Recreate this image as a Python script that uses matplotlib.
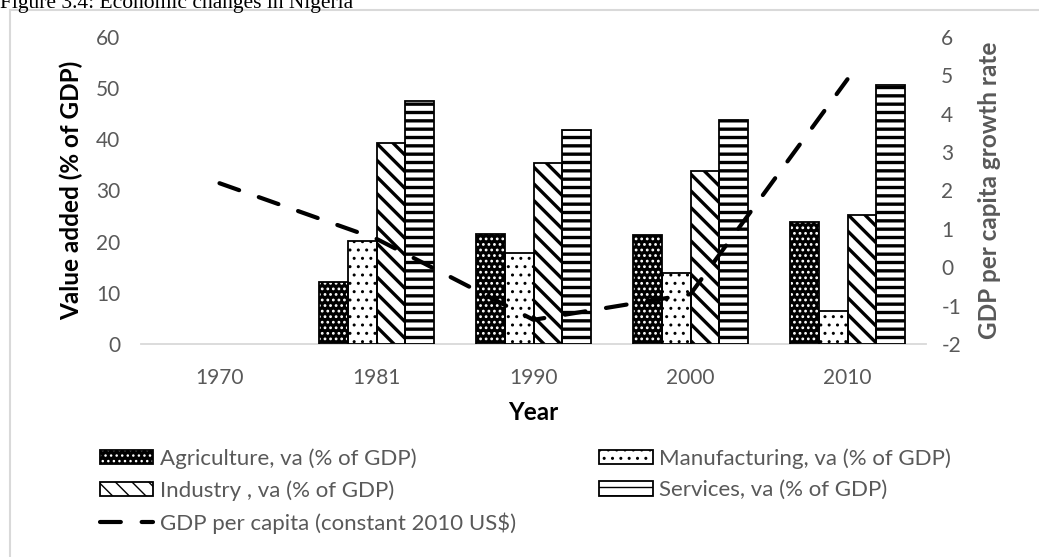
import numpy as np
import matplotlib
matplotlib.use("Agg")
import matplotlib.pyplot as plt
from matplotlib.patches import Rectangle, Patch
from matplotlib.legend_handler import HandlerTuple

years = ["1970", "1981", "1990", "2000", "2010"]
agriculture = [np.nan, 12.2, 21.5, 21.3, 23.8]
manufacturing = [np.nan, 20.2, 17.7, 13.9, 6.5]
industry = [np.nan, 39.2, 35.4, 33.8, 25.2]
services = [np.nan, 47.5, 41.9, 43.8, 50.7]
gdp_growth = [2.19, 0.74, -1.37, -0.70, 4.9]

FONT = "Lato"
GREY = "#595959"
plt.rcParams["font.family"] = [FONT, "DejaVu Sans"]
plt.rcParams["axes.unicode_minus"] = False

W, H = 1039, 557
fig = plt.figure(figsize=(W / 100, H / 100), dpi=100)
ax = fig.add_axes([141 / W, 1 - 344 / H, (926 - 141) / W, (344 - 37) / H])
ax2 = ax.twinx()

x = np.arange(len(years))
bw = 0.183

series = [
    ("Agriculture, va (% of GDP)", agriculture, dict(facecolor="black", edgecolor="white", hatch="...", hlw=1.2)),
    ("Manufacturing, va (% of GDP)", manufacturing, dict(facecolor="white", edgecolor="black", hatch="..", hlw=1.0)),
    ("Industry , va (% of GDP)", industry, dict(facecolor="white", edgecolor="black", hatch="\\\\", hlw=2.4)),
    ("Services, va (% of GDP)", services, dict(facecolor="white", edgecolor="black", hatch="--", hlw=2.4)),
]


def hatched_patch(st):
    p = Patch(facecolor=st["facecolor"], edgecolor=st["edgecolor"], hatch=st["hatch"], linewidth=0)
    if hasattr(p, "set_hatch_linewidth"):
        p.set_hatch_linewidth(st["hlw"])
    return p


handles = []
for i, (label, vals, st) in enumerate(series):
    pos = x + (i - 1.5) * bw
    bars = ax.bar(pos, vals, width=bw, facecolor=st["facecolor"], edgecolor=st["edgecolor"],
                  hatch=st["hatch"], linewidth=0, zorder=2)
    for b in bars:
        if hasattr(b, "set_hatch_linewidth"):
            b.set_hatch_linewidth(st["hlw"])
    ax.bar(pos, vals, width=bw, facecolor="none", edgecolor="black", linewidth=1.3, zorder=3)
    outline = Patch(facecolor="none", edgecolor="black", linewidth=1.3)
    handles.append((hatched_patch(st), outline))

line, = ax2.plot(x, gdp_growth, color="black", linewidth=3.0, linestyle=(0, (5, 5)),
                 dash_capstyle="round", zorder=5)

ax.set_xlim(-0.5, len(years) - 0.5)
ax.set_ylim(0, 60)
ax.set_yticks(np.arange(0, 61, 10))
ax2.set_ylim(-2, 6)
ax2.set_yticks(np.arange(-2, 7, 1))
ax.set_xticks(x)
ax.set_xticklabels(years)

for a in (ax, ax2):
    for s in a.spines.values():
        s.set_visible(False)
    a.tick_params(length=0, labelsize=15, labelcolor=GREY)
ax.spines["bottom"].set_visible(True)
ax.spines["bottom"].set_color("#d9d9d9")
ax.spines["bottom"].set_linewidth(1.3)
ax.tick_params(axis="y", pad=15)
ax.tick_params(axis="x", pad=17)
ax2.tick_params(axis="y", pad=11)

ax.set_ylabel("Value added (% of GDP)", fontsize=17.5, fontweight="bold", color="black", labelpad=9)
ax2.set_ylabel("GDP per capita growth rate", fontsize=17.5, fontweight="bold", color=GREY, labelpad=12)
ax.set_xlabel("Year", fontsize=17.5, fontweight="bold", color="black", labelpad=10)

leg_handles = [handles[0], handles[2], line, handles[1], handles[3]]
leg_labels = [series[0][0], series[2][0], "GDP per capita (constant 2010 US$)", series[1][0], series[3][0]]
leg = fig.legend(leg_handles, leg_labels, ncol=2, loc="upper left",
                 bbox_to_anchor=(100 / W, 1 - 448 / H), frameon=False, fontsize=16,
                 handler_map={tuple: HandlerTuple(ndivide=1, pad=0)},
                 handlelength=2.4, handleheight=0.62, handletextpad=0.3,
                 columnspacing=3.75, labelspacing=0.52, borderaxespad=0, borderpad=0)
for t in leg.get_texts():
    t.set_color(GREY)

# chart area border
fig.add_artist(Rectangle((10 / W, -0.05), 1.05, 1 - 10 / H + 0.05, transform=fig.transFigure,
                         facecolor="none", edgecolor="#d9d9d9", linewidth=1.5, zorder=0))

fig.text(0, 1 - 8 / H, "Figure 3.4: Economic changes in Nigeria", family="Liberation Serif",
         fontsize=15.5, va="baseline", ha="left", color="black")

fig.savefig("out.png", dpi=100)
